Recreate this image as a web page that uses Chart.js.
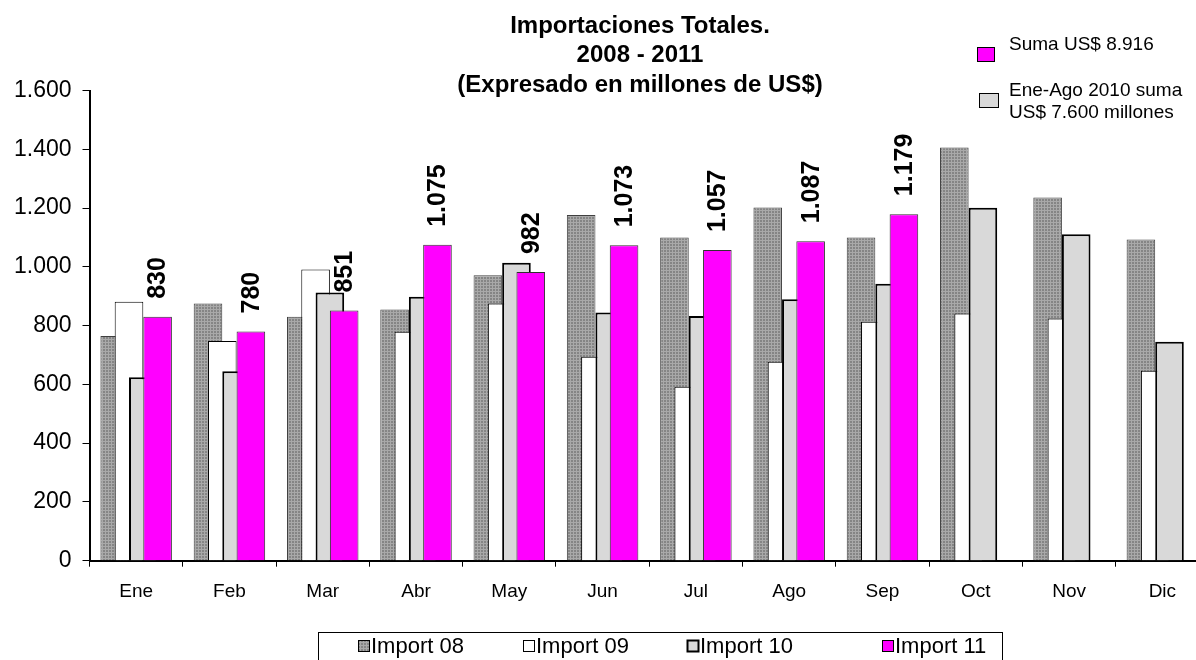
<!DOCTYPE html>
<html>
<head>
<meta charset="utf-8">
<script src="https://cdn.jsdelivr.net/npm/chart.js@4.4.1/dist/chart.umd.min.js"></script>
<style>
html, body { margin: 0; padding: 0; background: #fff; overflow: hidden; }
#wrap { position: relative; width: 1212px; height: 660px; }
</style>
</head>
<body>
<div id="wrap"><canvas id="importChart"></canvas></div>
<script>
// values (millones de US$)
const months = ['Ene', 'Feb', 'Mar', 'Abr', 'May', 'Jun', 'Jul', 'Ago', 'Sep', 'Oct', 'Nov', 'Dic'];
const import08 = [765, 875, 830, 855, 971, 1176, 1100, 1202, 1100, 1406, 1236, 1093];
const import09 = [881, 748, 991, 779, 875, 694, 592, 677, 813, 841, 824, 646];
const import10 = [624, 645, 913, 898, 1014, 845, 833, 890, 942, 1201, 1111, 745];
const import11 = [830, 780, 851, 1075, 982, 1073, 1057, 1087, 1179, null, null, null];
const seriesNames = ['Import 08', 'Import 09', 'Import 10', 'Import 11'];
const yMax = 1600;
const yStep = 200;
const titleLines = ['Importaciones Totales.', '2008 - 2011', '(Expresado en millones de US$)'];
const noteLines = ['Suma US$ 8.916', 'Ene-Ago 2010 suma', 'US$ 7.600 millones'];

const FONT = "'Liberation Sans', Arial, sans-serif";

// 1.600 style numbers
function fmt(v) {
    return String(v).replace(/\B(?=(\d{3})+(?!\d))/g, '.');
}

// fine grid dark grey fill used by Import 08
function makePattern() {
    const c = document.createElement('canvas');
    c.width = 3; c.height = 3;
    const g = c.getContext('2d');
    g.fillStyle = '#858585';
    g.fillRect(0, 0, 3, 3);
    g.fillStyle = '#a9a9a9';
    g.fillRect(0, 0, 3, 1);
    g.fillRect(0, 0, 1, 3);
    return g.createPattern(c, 'repeat');
}
const pattern08 = makePattern();
const fills = [pattern08, '#ffffff', '#d9d9d9', '#ff00ff'];
const borders = ['#404040', '#000000', '#000000', '#303030'];
const borderWidths = [1, 1, 2, 1];

// Excel draws later series over earlier ones; Chart.js does it the other way round
const overlapOrder = {
    id: 'overlapOrder',
    beforeDatasetDraw() {
        return false;
    },
    afterDatasetsDraw(chart) {
        const ctx = chart.ctx;
        for (let i = 0; i < chart.data.datasets.length; i++) {
            chart.getDatasetMeta(i).controller.draw();
        }
        // rotated value labels on Import 11
        const meta = chart.getDatasetMeta(3);
        ctx.save();
        ctx.fillStyle = '#000';
        ctx.font = 'bold 25px ' + FONT;
        ctx.textAlign = 'left';
        ctx.textBaseline = 'middle';
        meta.data.forEach((bar, i) => {
            if (import11[i] == null) return;
            ctx.save();
            ctx.translate(bar.x + 1, bar.y - 18);
            ctx.rotate(-Math.PI / 2);
            ctx.fillText(fmt(import11[i]), 0, 0);
            ctx.restore();
        });
        ctx.restore();
    },
    afterDraw(chart) {
        const ctx = chart.ctx;
        ctx.save();
        // title
        ctx.fillStyle = '#000';
        ctx.font = 'bold 24px ' + FONT;
        ctx.textAlign = 'center';
        ctx.textBaseline = 'middle';
        titleLines.forEach((t, i) => ctx.fillText(t, 640, 26 + i * 29.5));

        // notes top right
        ctx.font = '19px ' + FONT;
        ctx.textAlign = 'left';
        ctx.fillStyle = '#ff00ff';
        ctx.fillRect(977.5, 47.5, 17, 14);
        ctx.strokeStyle = '#000';
        ctx.lineWidth = 1;
        ctx.strokeRect(977.5, 47.5, 17, 14);
        ctx.fillStyle = '#d9d9d9';
        ctx.fillRect(979.5, 93.5, 19, 14);
        ctx.strokeRect(979.5, 93.5, 19, 14);
        ctx.fillStyle = '#000';
        ctx.fillText(noteLines[0], 1009, 45);
        ctx.fillText(noteLines[1], 1009, 91);
        ctx.fillText(noteLines[2], 1009, 113);

        // legend box at the bottom
        ctx.strokeStyle = '#000';
        ctx.strokeRect(318.5, 632.5, 684, 40);
        const sqX = [358, 523, 687, 882];
        ctx.font = '22px ' + FONT;
        seriesNames.forEach((name, i) => {
            ctx.fillStyle = fills[i];
            ctx.fillRect(sqX[i] + 0.5, 640.5, 11, 11);
            ctx.strokeStyle = '#000';
            ctx.lineWidth = i === 2 ? 2 : 1;
            ctx.strokeRect(sqX[i] + 0.5, 640.5, 11, 11);
            ctx.fillStyle = '#000';
            ctx.fillText(name, sqX[i] + 13, 647);
        });
        ctx.restore();
    }
};

const datasets = [import08, import09, import10, import11].map((vals, i) => ({
    label: seriesNames[i],
    data: vals,
    backgroundColor: fills[i],
    borderColor: borders[i],
    borderWidth: borderWidths[i],
    borderSkipped: 'start',
    categoryPercentage: 0.613,
    barPercentage: 2.0
}));

new Chart(document.getElementById('importChart'), {
    type: 'bar',
    data: { labels: months, datasets: datasets },
    plugins: [overlapOrder],
    options: {
        responsive: true,
        maintainAspectRatio: false,
        animation: false,
        devicePixelRatio: 1,
        layout: { padding: { top: 90.5, right: 3, left: 0, bottom: 0 } },
        plugins: {
            legend: { display: false },
            title: { display: false },
            tooltip: { enabled: false }
        },
        scales: {
            x: {
                offset: true,
                grid: { offset: true, drawOnChartArea: false, color: '#000', tickLength: 6, lineWidth: 1 },
                border: { color: '#000', width: 2 },
                ticks: { color: '#000', font: { family: FONT, size: 19 }, padding: 14, maxRotation: 0 },
                afterFit(scale) { scale.height = 99.3; }
            },
            y: {
                min: 0,
                max: yMax,
                grid: { drawOnChartArea: false, color: '#000', tickLength: 7, lineWidth: 1 },
                border: { color: '#000', width: 2 },
                ticks: {
                    stepSize: yStep,
                    color: '#000',
                    padding: 11,
                    font: { family: FONT, size: 23 },
                    callback: v => fmt(v)
                },
                afterFit(scale) { scale.width = 89.5; }
            }
        }
    }
});
</script>
</body>
</html>
